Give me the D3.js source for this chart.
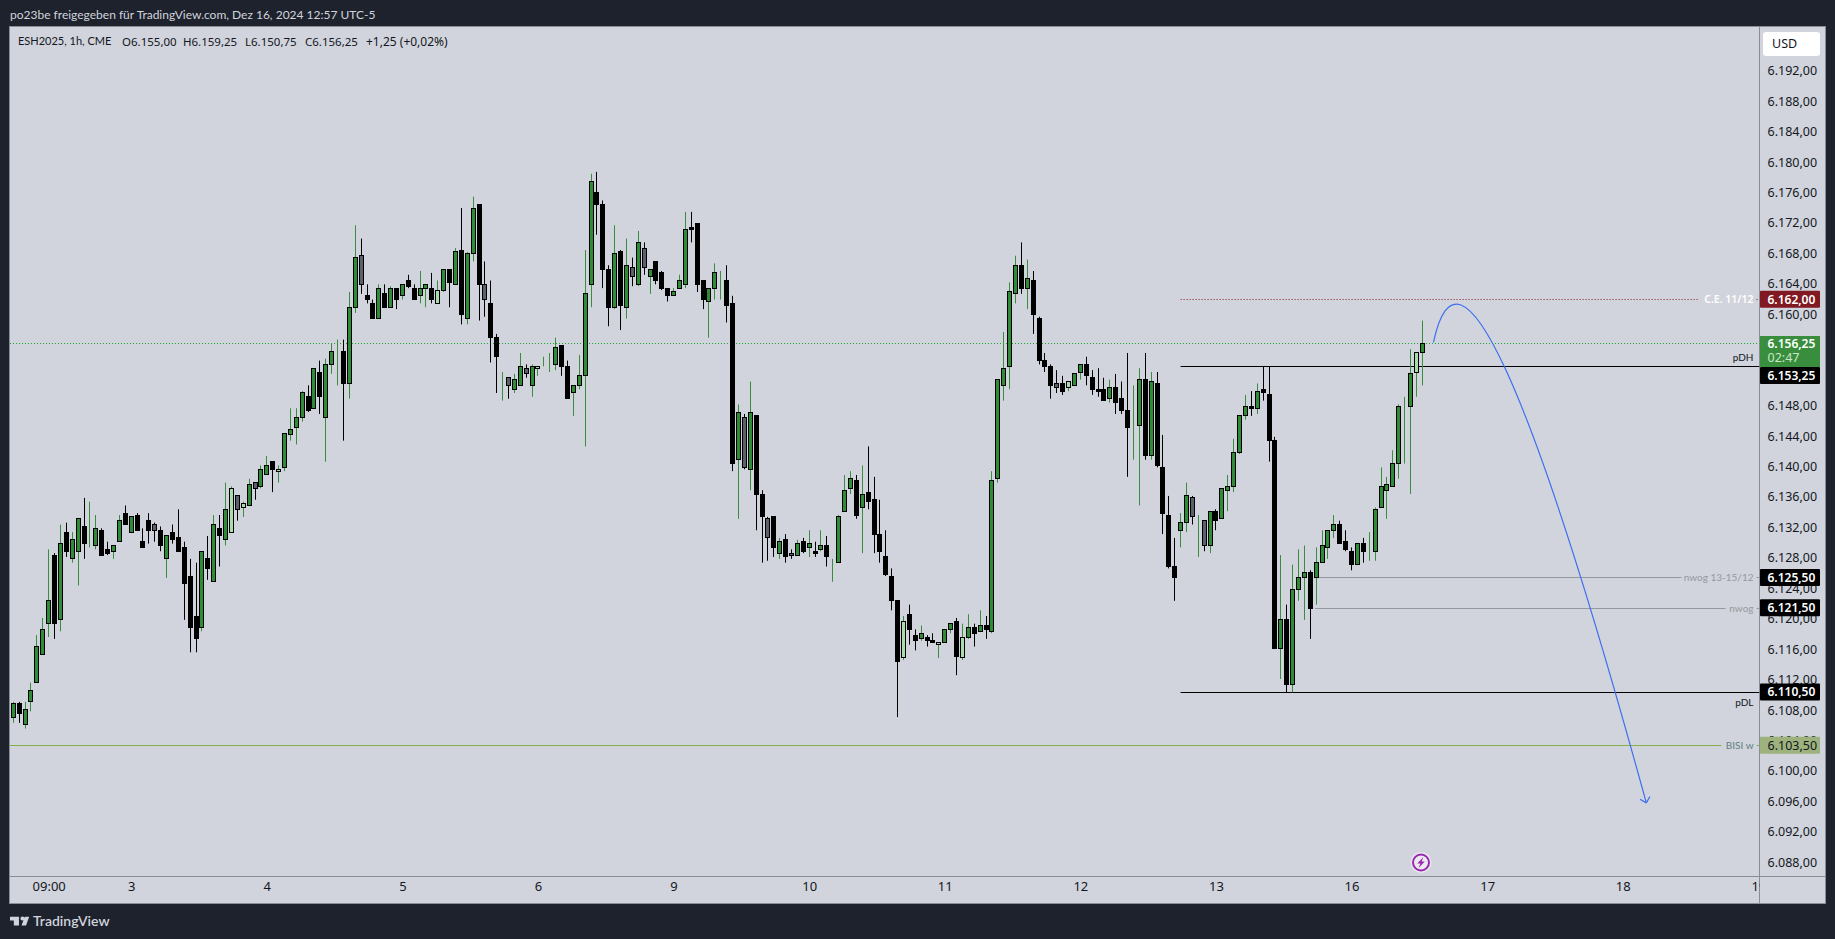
<!DOCTYPE html>
<html><head><meta charset="utf-8">
<script src="https://cdn.jsdelivr.net/npm/d3@7"></script>
<style>
html,body{margin:0;padding:0;background:#1e222d;overflow:hidden}
text{font-family:"Noto Sans",sans-serif}
</style></head><body><svg id="c" width="1835" height="939"></svg>
<script>
const opens = [
6107.25,6109,6106.25,6109.25,6111.75,6115.5,6119.5,6128.5,6120,6131.5,
6128,6129,6132.25,6130.5,6129.75,6131.75,6129.25,6129,6130.25,6134,
6131.5,6133.75,6130.25,6133,6132.5,6131.75,6128,6131.5,6130.75,6129.5,
6125.75,6120.5,6119,6128,6125,6132,6130.5,6131.5,6136.25,6134.75,
6135,6138,6137.5,6139,6140.75,6139.5,6140,6144.25,6145.25,6146.5,
6149.25,6147.75,6152.5,6146.5,6153.5,6155.5,6155.25,6151,6161,6167.75,
6162.5,6161.5,6159.5,6162.75,6161,6163.5,6162.5,6164.5,6163.5,6162.5,
6163.5,6163.5,6161.5,6163.25,6166,6164,6168.5,6159.5,6168,6174.5,
6164,6161.5,6157,6152.25,6151.75,6150.25,6150.75,6153,6150.75,6153,
6153.25,6153.25,6153.5,6156,6153.25,6149.75,6150.75,6152,6164,6176,
6174.5,6166,6161,6168.25,6161,6166.25,6164,6168.75,6165,6167,
6165.5,6163.5,6162.5,6163.5,6164,6171.5,6172,6164.5,6161.75,6163.5,
6164.75,6164.5,6161.5,6141,6146.5,6139.75,6146.75,6136.5,6133.25,6133.5,
6128.75,6130.5,6128.75,6128.5,6130.25,6129.5,6129,6129.25,6129.75,6127.5,
6127.5,6134.25,6137.25,6138.25,6134.75,6136.75,6135.75,6131.25,6128.25,6125.75,
6122.5,6115,6120.75,6118,6117.5,6117.75,6117.25,6116.75,6117,6118.75,
6119.75,6115,6117.75,6119,6118.5,6119.25,6118.5,6138.5,6150.75,6153.25,
6162.75,6166.5,6163.5,6164.5,6159.5,6154,6153.25,6151,6151,6150.5,
6150.75,6152.5,6153.5,6151.75,6150.25,6150.25,6149,6150.5,6149,6147.5,
6145.5,6145.5,6151.5,6141.5,6151,6140,6133.75,6127,6131.75,6132.75,
6136,6133,6133,6129.75,6134.25,6133.25,6137,6137.5,6142,6146.75,
6148,6147.75,6150.25,6149.5,6143.5,6116.25,6120,6111.5,6124,6125.5,
6126.25,6125.5,6127.5,6129.5,6131.75,6132.5,6130.25,6129,6127.25,6130,
6129,6129,6134.75,6137,6137.5,6140.5,6148,6148,6152.5,6155];
const highs = [
6109.25,6109.25,6109.25,6111.75,6118,6120.25,6129.25,6128.75,6132.5,6132.75,
6131.5,6133.25,6136,6135.5,6133.75,6132,6130.25,6129.75,6133.75,6135,
6133.5,6134,6132,6134,6132.75,6132.25,6131,6132.5,6134.5,6130.25,
6128,6127.5,6129,6131,6133.75,6133.75,6138,6137.5,6136.25,6135.5,
6138.5,6138,6140.25,6141.5,6140.75,6140.25,6144.5,6147.75,6147.75,6150,
6150.75,6153,6154,6154.25,6156.25,6156.75,6156.75,6163,6171.75,6170,
6164,6162,6164,6164,6163.75,6163.5,6164,6165.25,6164,6165.75,
6164,6165.5,6164.5,6166,6166,6168.75,6174,6168.25,6175.5,6174.5,
6167,6164.5,6157.5,6152.5,6151.75,6152.25,6155,6153.5,6153.5,6153.25,
6154.5,6155,6157,6156,6154,6150.75,6154.75,6168.5,6178.5,6178.75,
6175,6166.5,6171.75,6168.5,6170,6167.5,6171,6169.5,6166,6167,
6165.75,6163.5,6163.5,6165.25,6173.5,6173.5,6172,6164.5,6163.5,6166.75,
6165.75,6166.5,6162.5,6148.25,6147,6151.25,6146.75,6137,6133.5,6133.5,
6130.75,6131.25,6129.25,6130.5,6130.75,6131.75,6130.25,6131.75,6131,6128,
6133.75,6139,6139.5,6139,6140.25,6142.75,6138.75,6135.75,6131.75,6126.75,
6122.5,6120.5,6122,6118.75,6119.25,6118,6118.25,6117,6118.75,6119.5,
6120.25,6119.5,6120.75,6119.5,6121.25,6120.5,6139.5,6151.5,6157.75,6164.25,
6167.75,6169.5,6167.25,6165.75,6159.75,6155,6153.5,6152.75,6152,6151.25,
6152.25,6153.5,6154.5,6152.75,6153,6151.75,6151.5,6152.25,6151.25,6155,
6150.75,6153,6155,6152.5,6152.5,6144.25,6136.25,6130.75,6134,6138,
6136.25,6133.75,6133,6134.25,6134.5,6137.25,6139,6143.75,6146.75,6149.5,
6150,6151,6153.25,6153.25,6144,6128.5,6122,6127.25,6129.25,6129.75,
6126.5,6129.5,6131.75,6131.75,6133.75,6133,6131.75,6129.5,6130,6130.75,
6131.5,6134.75,6140,6138.75,6142.25,6148.25,6149.25,6155.5,6155,6159.25];
const lows = [
6106.5,6106.5,6105.75,6108,6111.75,6115.5,6117.75,6117.5,6118.5,6128.25,
6127.5,6124.5,6128,6129.5,6129.25,6128.5,6128.5,6128,6130.25,6132.5,
6131.5,6131.75,6129.5,6130,6130.25,6129,6125.5,6130,6129,6120,
6115.75,6115.75,6118.5,6125.25,6125,6127,6129.75,6131.5,6133,6133.5,
6135,6135.75,6137.25,6139,6136.75,6138,6139.5,6143.5,6143,6146,
6147.25,6147.75,6147,6140.75,6152.25,6150.75,6143.5,6149,6160.25,6162.75,
6161.5,6159.5,6159.5,6161,6161,6160.75,6162,6163.5,6162,6161.5,
6161,6161.5,6161.5,6163,6161,6164,6158.75,6158.75,6167,6159.25,
6159.75,6153.75,6149.75,6148.75,6149,6149.75,6150.75,6151.75,6149.25,6152,
6153.25,6152.5,6152.75,6152,6149,6146.75,6150.25,6142.75,6161,6170.5,
6163.5,6158.5,6160.75,6158,6159.5,6163.75,6163.75,6165.25,6162.75,6164,
6163.25,6161.75,6162.5,6163.5,6163.5,6169.5,6163,6160.75,6157,6162,
6162,6159,6139.5,6133.25,6139.75,6137,6131.75,6127.5,6127.75,6128.25,
6128,6127.5,6128,6128.5,6128.75,6128.25,6128.25,6129,6127,6125,
6127.5,6134.25,6136.5,6133.25,6128.75,6134.5,6128.75,6127.5,6125.75,6121.25,
6107.25,6114.75,6116.75,6116,6117.25,6116.5,6117,6115,6117,6118.25,
6112.75,6114.75,6117.5,6116.5,6118.5,6117.5,6118.25,6138,6148.75,6150.25,
6161.5,6162.75,6160.75,6157.5,6153.5,6152.5,6149,6149.75,6149.5,6150,
6150.75,6151.5,6150.75,6149.5,6149.25,6148.75,6148.5,6147,6147,6138.75,
6141,6135,6141,6141,6140,6131.25,6126.75,6122.5,6129.5,6131.5,
6132.5,6128.25,6129,6128.75,6131.75,6133.25,6134.25,6136.75,6141.75,6146.25,
6146.75,6147,6148.75,6140.75,6116.25,6112.25,6110.5,6110.5,6122.5,6120,
6117.5,6122,6127.5,6128,6130.75,6130,6129,6126.5,6127.25,6127.5,
6127.75,6127.75,6134.75,6133.25,6137.5,6138.5,6140.5,6136.5,6149.25,6150.75];
const closes = [
6109,6107.75,6108.25,6110.75,6116.5,6118.75,6122.5,6119.5,6130,6129,
6130.5,6133.25,6130,6130.5,6132,6128.5,6128.75,6129.75,6133,6132.5,
6133.5,6131.75,6129.5,6131.75,6131.75,6129.75,6131,6130.5,6129,6124.75,
6119,6117.5,6129,6126.75,6132.5,6131,6134.5,6137.25,6134.5,6135.25,
6137.75,6137.25,6139.75,6140.25,6139.75,6139.75,6144.5,6145,6146.5,6149.75,
6147.5,6153,6149.25,6153.5,6155.25,6155.5,6151,6161,6167.5,6164,
6162,6159.5,6163.5,6161,6163.5,6162,6164,6163.75,6162,6163.5,
6164,6162,6163.25,6166,6164.25,6168.25,6160,6168,6174,6164,
6162,6157,6154.5,6152.25,6150.75,6151.5,6153.25,6152.25,6153.25,6153.25,
6153.25,6153.25,6155.75,6153.25,6149,6150.75,6152,6162.75,6177.5,6174.5,
6166,6161,6168,6161.25,6166.5,6165,6169.5,6166.25,6166,6164.5,
6163.5,6162.5,6163,6164.5,6171.25,6171.25,6164,6162,6163.5,6165.5,
6164.75,6161.25,6140.5,6147.25,6140,6147.25,6136.5,6133.5,6130.75,6129.5,
6130.25,6128.25,6128.5,6130,6129,6130,6128.75,6129.75,6128.25,6127.5,
6133.5,6137,6138.5,6133.75,6136.5,6135.5,6131.25,6129,6126,6122.5,
6114.5,6119.75,6118.75,6117.25,6118.25,6117.25,6117,6117,6118.75,6119.5,
6115.25,6117.75,6119,6118.25,6119.25,6118.75,6138.25,6151.5,6153,6163,
6166.5,6163.5,6164.75,6160,6154,6153.25,6150.75,6150.5,6150,6151.25,
6152.25,6153.5,6152,6150.25,6150,6148.75,6150.5,6148.5,6147.5,6145.25,
6145.5,6151.5,6141.5,6151.25,6140.25,6134,6127,6125.5,6132.75,6136.25,
6133.5,6133,6129.75,6134.25,6133,6137.25,6137.5,6142,6146.75,6148,
6147.75,6150,6149.75,6143.5,6116.25,6120,6111.5,6124,6125.5,6126.25,
6121.5,6127.5,6129.75,6131.75,6132.5,6130,6129.25,6127.25,6130,6129,
6129,6134.5,6137.5,6137.75,6140.5,6148,6148,6152.25,6155,6156.25];
// candle fill class per bar: u up, d down, l pale up, g grey down
const barKinds = [
"uduuuuudud","uuduudduud","udddgduddd","ddududulgl","uguudluuuu","duduuuduug",
"ddudududdu","udlududuud","gdduguugul","uuudduuuud","ddudugugud","dduuuddduu",
"uddugud"+"dgd","udgudududu","uuududdddd","dlddudd"+"luu","dludud"+"uuuu","ududdddgdl",
"uuddddu"+"ddd","uududdddu"+"u","gugud"+"uuuuu","dudddudu"+"uu","duuuudddud","uuuuuuuulu"].join("");
const priceTicks = [6192,6188,6184,6180,6176,6172,6168,6164,6160,6156,6152,6148,6144,6140,6136,6132,6128,6124,6120,6116,6112,6108,6104,6100,6096,6092,6088];
const timeBars = [6,20,43,66,89,112,135,158,181,204,227,250,273,296];
const timeLabels = ["09:00","3","4","5","6","9","10","11","12","13","16","17","18","19"];
const legendLabels = ["O6.155,00","H6.159,25","L6.150,75","C6.156,25","+1,25 (+0,02%)"];
const lastPrice = 6156.25;
const levelPrices = [6162, 6153.25, 6125.5, 6121.5, 6110.5, 6103.5];
const levelNames = ["C.E. 11/12","pDH","nwog 13-15/12","nwog","pDL","BISI w"];
const levelStartBars = [198, 198, 221.4, 220.8, 198, -1];
const curveBars = [240.9, 247.3, 277];
const curvePrices = [6156.4, 6179.5, 6096];

const svg = d3.select("#c");
const W=1835,H=939, L=10,R=1825,T=27,B=903, AX=1759.5, AY=876;
const x = d3.scaleLinear().domain([0,239]).range([13.3,1422.3]);
const y = d3.scaleLinear().domain([6088,6192]).range([863.9,70.8]);
const yLabels = d3.scaleLinear().domain([6088,6192]).range([862.3,70.7]);
const cx = i => Math.round(x(i)-0.5)+0.5;
const cy = p => Math.round(y(p)-0.5)+0.5;
const BG="#1e222d", PANE="#d1d4dc", EDGE="#8a8d97", INK="#131722";
const UP="#2e8b36", PALE="#a9dcab", GREY="#5d606b", WICKUP="#388e3c";

svg.append("rect").attr("width",W).attr("height",H).attr("fill",BG);
svg.append("rect").attr("x",L-.5).attr("y",T-.5).attr("width",R-L+1).attr("height",B-T+1).attr("fill",PANE).attr("stroke",EDGE).attr("stroke-width",1);
svg.append("defs").append("clipPath").attr("id","ax").append("rect").attr("x",L).attr("y",AY).attr("width",AX-L).attr("height",B-AY);
svg.append("defs").append("clipPath").attr("id","pane").append("rect").attr("x",L).attr("y",T).attr("width",AX-L).attr("height",AY-T);

// separators
svg.append("line").attr("x1",AX).attr("x2",AX).attr("y1",T).attr("y2",B).attr("stroke",EDGE);
svg.append("line").attr("x1",L).attr("x2",R).attr("y1",AY+.5).attr("y2",AY+.5).attr("stroke",EDGE);

// axes
const euro = d3.formatLocale({decimal:",",thousands:".",grouping:[3],currency:["","€"]}).format(",.2f");
const yAxis = svg.append("g").attr("transform",`translate(${AX+8},0)`)
  .call(d3.axisRight(yLabels).tickValues(priceTicks).tickFormat(euro).tickSize(0).tickPadding(0));
yAxis.select(".domain").remove();
yAxis.selectAll("text").attr("font-size",12.5).attr("fill",INK).attr("font-family",'"Noto Sans",sans-serif');
const xAxis = svg.append("g").attr("clip-path","url(#ax)").append("g").attr("transform",`translate(0,${AY+6})`)
  .call(d3.axisBottom(x).tickValues(timeBars).tickFormat((d,i)=>timeLabels[i]).tickSize(0).tickPadding(0));
xAxis.select(".domain").remove();
xAxis.selectAll("text").attr("font-size",13).attr("fill",INK).attr("font-family",'"Noto Sans",sans-serif');

// last price dotted line
const plot = svg.append("g").attr("clip-path","url(#pane)");
plot.append("line").attr("x1",L).attr("x2",AX).attr("y1",cy(lastPrice)).attr("y2",cy(lastPrice))
  .attr("stroke","#12a82e").attr("stroke-width",1.2).attr("stroke-dasharray","1 2");

// levels
const lvlStyle = [
 {c:"#801922",dash:"1 2",lab:"#ffffff",tag:"#801922",txt:"#fff",gap:60,above:0},
 {c:"#000000",dash:null,lab:INK,tag:"#000",txt:"#fff",gap:0,above:-1},
 {c:"#9598a1",dash:null,lab:"#9598a1",tag:"#000",txt:"#fff",gap:78,above:0},
 {c:"#9598a1",dash:null,lab:"#9598a1",tag:"#000",txt:"#fff",gap:34,above:0},
 {c:"#000000",dash:null,lab:INK,tag:"#000",txt:"#fff",gap:0,above:1},
 {c:"#86b04a",dash:null,lab:"#5f8080",tag:"#9db27c",txt:INK,gap:38,above:0}];
levelPrices.forEach((p,k)=>{
  const s=lvlStyle[k], yy=cy(p), x0=x(levelStartBars[k]);
  const seg=(a,b)=>plot.append("line").attr("x1",a).attr("x2",b).attr("y1",yy).attr("y2",yy).attr("stroke",s.c).attr("stroke-width",1).attr("stroke-dasharray",s.dash);
  seg(x0,AX-s.gap);
  if(s.gap) seg(AX-3,AX);
  svg.append("text").attr("x",AX-6).attr("y",yy+(s.above?s.above*9.5:0)).attr("dy","0.35em").attr("text-anchor","end")
     .attr("font-size",k==0?10.5:10).attr("fill",s.lab).attr("font-weight",k==0?600:400)
     .style("font-family",k==0?'"Noto Sans"':'Lato').text(levelNames[k]);
});

// candles
const g = plot.append("g");
barKinds.split("").forEach((k,i)=>{
  const up = k==="u"||k==="l";
  const wick = up?WICKUP:"#000";
  const fill = {u:UP,d:"#000",l:PALE,g:GREY}[k];
  g.append("line").attr("x1",cx(i)).attr("x2",cx(i)).attr("y1",y(highs[i])).attr("y2",y(lows[i])).attr("stroke",wick).attr("stroke-width",1);
  const t=cy(Math.max(opens[i],closes[i])), b=cy(Math.min(opens[i],closes[i]));
  g.append("rect").attr("x",cx(i)-2).attr("width",4).attr("y",t).attr("height",b-t).attr("fill",fill).attr("stroke","#000").attr("stroke-width",1);
});

// curve
const cxs=curveBars.map(d=>x(d)), cys=curvePrices.map(d=>y(d));
const path=d3.path(); path.moveTo(cxs[0],cys[0]); path.quadraticCurveTo(cxs[1],cys[1],cxs[2],cys[2]);
plot.append("path").attr("d",path.toString()).attr("fill","none").attr("stroke","#3d6ff0").attr("stroke-width",1.2);
const ang=Math.atan2(cys[2]-cys[1],cxs[2]-cxs[1]);
[Math.PI*.75,-Math.PI*.75].forEach(a=>{
  plot.append("line").attr("x1",cxs[2]).attr("y1",cys[2]).attr("x2",cxs[2]+7.3*Math.cos(ang+a)).attr("y2",cys[2]+7.3*Math.sin(ang+a)).attr("stroke","#3d6ff0").attr("stroke-width",1.2);
});

// price tags
const tagCentres=[299.3,375.5,577.5,607.7,692,745.3];
levelPrices.forEach((p,k)=>{
  const s=lvlStyle[k], c=tagCentres[k];
  svg.append("rect").attr("x",AX+.5).attr("y",c-8.5).attr("width",60).attr("height",17).attr("fill",s.tag).attr("rx",1);
  svg.append("text").attr("x",AX+8).attr("y",c).attr("dy","0.35em").attr("font-size",k==5?12.5:12).attr("font-weight",k==5?400:600).attr("fill",s.txt).text(euro(p));
});
svg.append("rect").attr("x",AX+.5).attr("y",336).attr("width",60).attr("height",31).attr("fill","#388e3c");
svg.append("text").attr("x",AX+8).attr("y",344).attr("dy","0.35em").attr("font-size",12).attr("font-weight",600).attr("fill","#fff").text(euro(lastPrice));
svg.append("text").attr("x",AX+8).attr("y",358).attr("dy","0.35em").attr("font-size",12.5).attr("fill","#c8e6c9").text("02:47");

// USD button
svg.append("rect").attr("x",1763).attr("y",32).attr("width",57).attr("height",24).attr("rx",3).attr("fill","#ffffff");
svg.append("text").attr("x",1772).attr("y",44).attr("dy","0.35em").attr("font-size",12.5).attr("fill",INK).text("USD");

// title + legend
svg.append("text").attr("x",10).attr("y",15).attr("dy","0.35em").attr("font-size",12).style("font-family","Lato").attr("fill","#d1d4dc").text("po23be freigegeben für TradingView.com, Dez 16, 2024 12:57 UTC-5");
svg.append("text").attr("x",18).attr("y",41.5).attr("dy","0.35em").attr("font-size",11).style("font-family","Lato").attr("fill",INK).text("ESH2025, 1h, CME");
[122,183,245,305,366].forEach((px,k)=>svg.append("text").attr("x",px).attr("y",41.5).attr("dy","0.35em").attr("font-size",k==4?12:11.5).attr("fill",INK).text(legendLabels[k]));

// bolt badge
const bolt=svg.append("g").attr("transform","translate(1421,862.5)");
bolt.append("circle").attr("r",10.5).attr("fill","#ffffff").attr("opacity",.45);
bolt.append("circle").attr("r",8).attr("fill","#eceaf1").attr("stroke","#9c27b0").attr("stroke-width",2);
bolt.append("path").attr("d","M2.4-5.6L-3.8 1H-.6L-2.4 5.6L3.8-1H.6Z").attr("fill","#9c27b0");

// footer logo
const logo=svg.append("g").attr("transform","translate(10,912.8) scale(.64)").attr("fill","#d1d4dc");
logo.append("path").attr("d","M14 6H0v6h6v8h8V6z");
logo.append("circle").attr("cx",19.5).attr("cy",9).attr("r",3.2);
logo.append("path").attr("d","M30 6h-7l-5 14h7l5-14z");
svg.append("text").attr("x",33).attr("y",921.5).attr("dy","0.35em").attr("font-size",14).attr("font-weight",600).style("font-family","Lato").attr("fill","#d1d4dc").text("TradingView");
</script></body></html>
